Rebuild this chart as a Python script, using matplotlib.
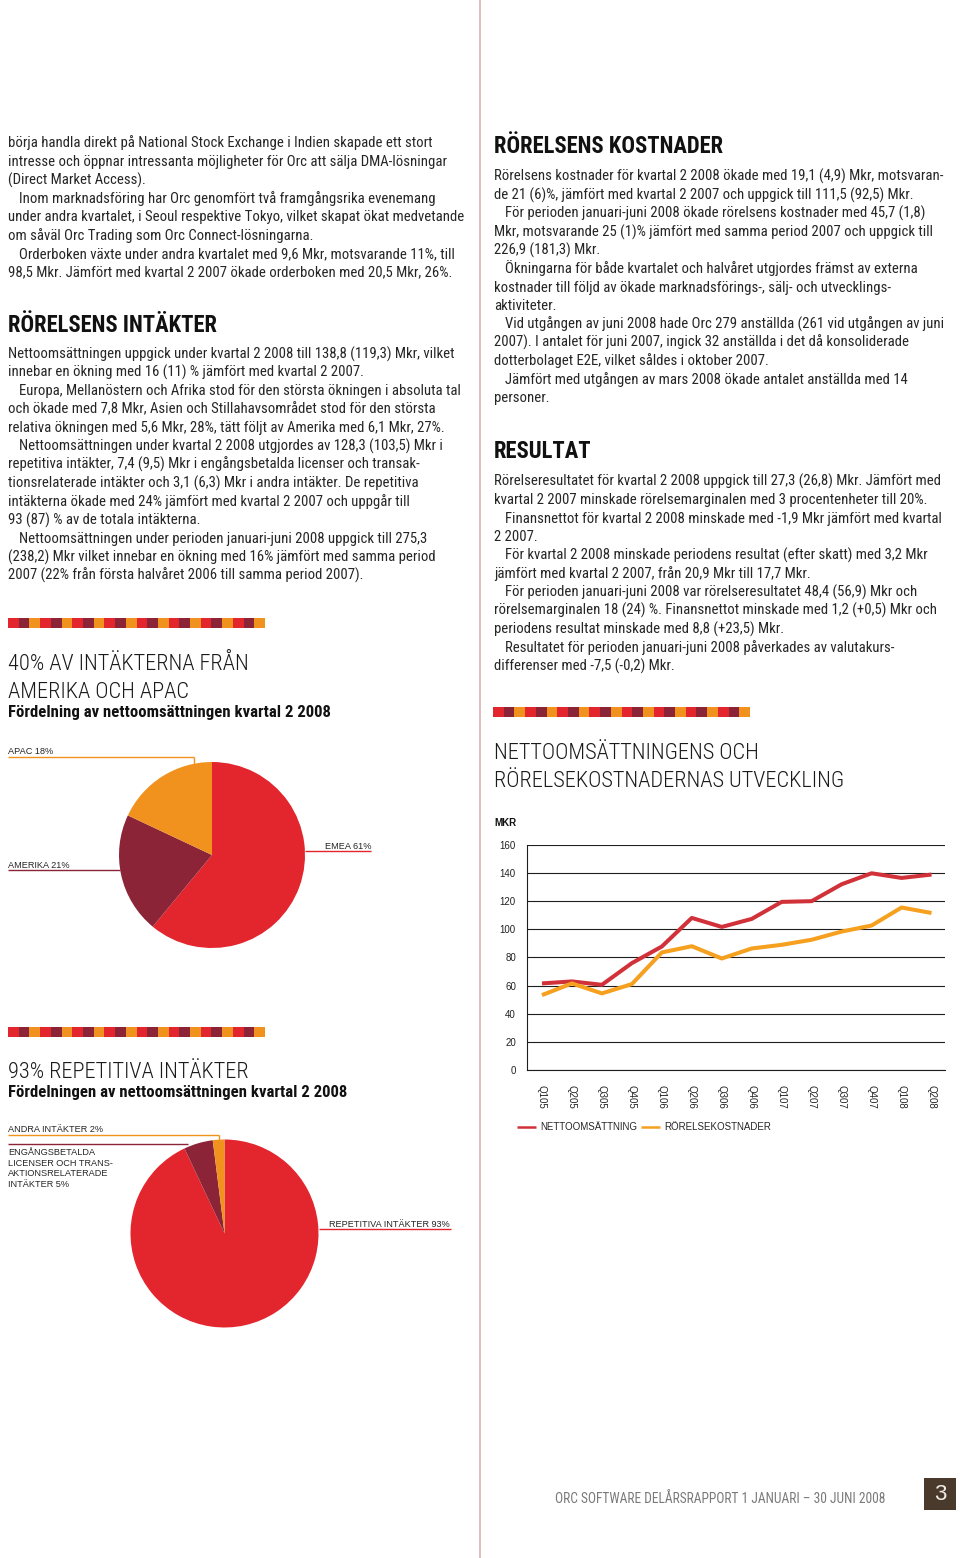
import matplotlib
matplotlib.use('Agg')
import matplotlib.pyplot as plt
from matplotlib.lines import Line2D
from matplotlib.patches import Rectangle
from matplotlib import font_manager as fm

# ---------------- data ----------------
quarters = ['Q105', 'Q205', 'Q305', 'Q405', 'Q106', 'Q206', 'Q306', 'Q406',
            'Q107', 'Q207', 'Q307', 'Q407', 'Q108', 'Q208']
nettoomsattning = [61.5, 62.9, 60.5, 75.9, 87.7, 108.0, 101.6, 107.3,
                   119.4, 119.9, 131.9, 139.7, 136.4, 138.8]
rorelsekostnader = [53.2, 61.5, 54.4, 61.0, 83.5, 87.9, 79.2, 86.3,
                    88.9, 92.5, 98.3, 102.6, 115.4, 111.5]
y_ticks = [0, 20, 40, 60, 80, 100, 120, 140, 160]

region_labels = ['EMEA 61%', 'AMERIKA 21%', 'APAC 18%']
region_values = [61, 21, 18]

revenue_labels = ['REPETITIVA INTÄKTER 93%',
                  'ENGÅNGSBETALDA\nLICENSER OCH TRANS-\nAKTIONSRELATERADE\nINTÄKTER 5%',
                  'ANDRA INTÄKTER 2%']
revenue_values = [93, 5, 2]

left_top = [
    (0, "börja handla direkt på National Stock Exchange i Indien skapade ett stort"),
    (0, "intresse och öppnar intressanta möjligheter för Orc att sälja DMA-lösningar"),
    (0, "(Direct Market Access)."),
    (1, "Inom marknadsföring har Orc genomfört två framgångsrika evenemang"),
    (0, "under andra kvartalet, i Seoul respektive Tokyo, vilket skapat ökat medvetande"),
    (0, "om såväl Orc Trading som Orc Connect-lösningarna."),
    (1, "Orderboken växte under andra kvartalet med 9,6 Mkr, motsvarande 11%, till"),
    (0, "98,5 Mkr. Jämfört med kvartal 2 2007 ökade orderboken med 20,5 Mkr, 26%."),
]
left_intakter = [
    (0, "Nettoomsättningen uppgick under kvartal 2 2008 till 138,8 (119,3) Mkr, vilket"),
    (0, "innebar en ökning med 16 (11) % jämfört med kvartal 2 2007."),
    (1, "Europa, Mellanöstern och Afrika stod för den största ökningen i absoluta tal"),
    (0, "och ökade med 7,8 Mkr, Asien och Stillahavsområdet stod för den största"),
    (0, "relativa ökningen med 5,6 Mkr, 28%, tätt följt av Amerika med 6,1 Mkr, 27%."),
    (1, "Nettoomsättningen under kvartal 2 2008 utgjordes av 128,3 (103,5) Mkr i"),
    (0, "repetitiva intäkter, 7,4 (9,5) Mkr i engångsbetalda licenser och transak-"),
    (0, "tionsrelaterade intäkter och 3,1 (6,3) Mkr i andra intäkter. De repetitiva"),
    (0, "intäkterna ökade med 24% jämfört med kvartal 2 2007 och uppgår till"),
    (0, "93 (87) % av de totala intäkterna."),
    (1, "Nettoomsättningen under perioden januari-juni 2008 uppgick till 275,3"),
    (0, "(238,2) Mkr vilket innebar en ökning med 16% jämfört med samma period"),
    (0, "2007 (22% från första halvåret 2006 till samma period 2007)."),
]
right_kostnader = [
    (0, "Rörelsens kostnader för kvartal 2 2008 ökade med 19,1 (4,9) Mkr, motsvaran-"),
    (0, "de 21 (6)%, jämfört med kvartal 2 2007 och uppgick till 111,5 (92,5) Mkr."),
    (1, "För perioden januari-juni 2008 ökade rörelsens kostnader med 45,7 (1,8)"),
    (0, "Mkr, motsvarande 25 (1)% jämfört med samma period 2007 och uppgick till"),
    (0, "226,9 (181,3) Mkr."),
    (1, "Ökningarna för både kvartalet och halvåret utgjordes främst av externa"),
    (0, "kostnader till följd av ökade marknadsförings-, sälj- och utvecklings-"),
    (0, "aktiviteter."),
    (1, "Vid utgången av juni 2008 hade Orc 279 anställda (261 vid utgången av juni"),
    (0, "2007). I antalet för juni 2007, ingick 32 anställda i det då konsoliderade"),
    (0, "dotterbolaget E2E, vilket såldes i oktober 2007."),
    (1, "Jämfört med utgången av mars 2008 ökade antalet anställda med 14"),
    (0, "personer."),
]
right_resultat = [
    (0, "Rörelseresultatet för kvartal 2 2008 uppgick till 27,3 (26,8) Mkr. Jämfört med"),
    (0, "kvartal 2 2007 minskade rörelsemarginalen med 3 procentenheter till 20%."),
    (1, "Finansnettot för kvartal 2 2008 minskade med -1,9 Mkr jämfört med kvartal"),
    (0, "2 2007."),
    (1, "För kvartal 2 2008 minskade periodens resultat (efter skatt) med 3,2 Mkr"),
    (0, "jämfört med kvartal 2 2007, från 20,9 Mkr till 17,7 Mkr."),
    (1, "För perioden januari-juni 2008 var rörelseresultatet 48,4 (56,9) Mkr och"),
    (0, "rörelsemarginalen 18 (24) %. Finansnettot minskade med 1,2 (+0,5) Mkr och"),
    (0, "periodens resultat minskade med 8,8 (+23,5) Mkr."),
    (1, "Resultatet för perioden januari-juni 2008 påverkades av valutakurs-"),
    (0, "differenser med -7,5 (-0,2) Mkr."),
]

# ---------------- setup ----------------
W, H = 960, 1558
fig = plt.figure(figsize=(W / 100, H / 100), dpi=100)
fig.patch.set_facecolor('white')
renderer = fig.canvas.get_renderer()

names = {f.name for f in fm.fontManager.ttflist}


def pick(cands):
    for c in cands:
        if c in names:
            return c
    return 'DejaVu Sans'


BODY = pick(['Roboto Condensed', 'Liberation Sans Narrow', 'Roboto'])
ARIAL = pick(['Liberation Sans', 'Arimo', 'DejaVu Sans'])

RED = '#e3262d'
MAROON = '#8c2438'
ORANGE = '#f0921d'
TXT = '#262626'


def fx(x):
    return x / W


def fy(y):
    return 1 - y / H


def fit_size(text, family, weight, target_px, base=10.0):
    t = fig.text(0, 0, text, fontsize=base, family=family, fontweight=weight)
    w = t.get_window_extent(renderer).width
    t.remove()
    return base * target_px / w


def put(x, y, s, size, family=BODY, weight='normal', color=TXT, ha='left', va='baseline', **kw):
    return fig.text(fx(x), fy(y), s, fontsize=size, family=[family, 'DejaVu Sans'],
                    fontweight=weight, color=color, ha=ha, va=va, **kw)


def hline(x0, x1, y, color, lw=1.0):
    fig.add_artist(Line2D([fx(x0), fx(x1)], [fy(y), fy(y)], transform=fig.transFigure,
                          color=color, lw=lw, solid_capstyle='butt'))


def vline(x, y0, y1, color, lw=1.0):
    fig.add_artist(Line2D([fx(x), fx(x)], [fy(y0), fy(y1)], transform=fig.transFigure,
                          color=color, lw=lw, solid_capstyle='butt'))


# calibrated sizes
BODY_SIZE = fit_size("under andra kvartalet, i Seoul respektive Tokyo, vilket skapat ökat medvetande",
                     BODY, 'normal', 451)
HEAD_SIZE = fit_size("RÖRELSENS INTÄKTER", BODY, 'bold', 209)
TITLE_SIZE = fit_size("40% AV INTÄKTERNA FRÅN", BODY, 'light', 241)
SUB_SIZE = fit_size("Fördelning av nettoomsättningen kvartal 2 2008", BODY, 'bold', 322)
FOOT_SIZE = fit_size("ORC SOFTWARE DELÅRSRAPPORT 1 JANUARI – 30 JUNI 2008", BODY, 'normal', 331)
LAB_SIZE = fit_size("REPETITIVA INTÄKTER 93%", ARIAL, 'normal', 120)

STEP = 18.45


def block(lines, x0, base0):
    for i, (ind, s) in enumerate(lines):
        put(x0 + 11 * ind, base0 + i * STEP, s, BODY_SIZE)


def stripe(x0, y0, width=257, height=10, n=24):
    cols = [RED, MAROON, ORANGE]
    cw = width / n
    for i in range(n):
        fig.add_artist(Rectangle((fx(x0 + i * cw), fy(y0 + height)), cw / W + 0.0002, height / H,
                                 transform=fig.transFigure, color=cols[i % 3], lw=0))


# divider
vline(480, 0, H, '#d8b2b2', lw=1.2)

# ---------------- left column text ----------------
block(left_top, 8, 147.3)
put(8, 331.7, "RÖRELSENS INTÄKTER", HEAD_SIZE, weight='bold', color='#111111')
block(left_intakter, 8, 358.3)

# ---------------- right column text ----------------
put(494, 153, "RÖRELSENS KOSTNADER", HEAD_SIZE, weight='bold', color='#111111')
block(right_kostnader, 494, 181)
put(494, 457.7, "RESULTAT", HEAD_SIZE, weight='bold', color='#111111')
block(right_resultat, 494, 485.7)

# ---------------- pie 1 ----------------
stripe(8, 618)
put(8, 670, "40% AV INTÄKTERNA FRÅN", TITLE_SIZE, weight='light', color='#1a1a1a')
put(8, 697.5, "AMERIKA OCH APAC", TITLE_SIZE, weight='light', color='#1a1a1a')
put(8, 717.5, "Fördelning av nettoomsättningen kvartal 2 2008", SUB_SIZE, weight='bold', color='#111111')

cx, cy, r = 212, 855, 93
ax1 = fig.add_axes([fx(cx - r), fy(cy + r), 2 * r / W, 2 * r / H])
ax1.pie(region_values, colors=[RED, MAROON, ORANGE], startangle=90, counterclock=False,
        wedgeprops=dict(linewidth=0))
ax1.set_xlim(-1, 1)
ax1.set_ylim(-1, 1)
ax1.set_aspect('equal')
ax1.axis('off')

put(8, 754.5, region_labels[2], LAB_SIZE, family=ARIAL)
hline(8, 194, 757, ORANGE, lw=1.0)
vline(193.5, 757, 764, ORANGE, lw=1.0)
put(8, 867.5, region_labels[1], LAB_SIZE, family=ARIAL)
hline(8, 120, 869.5, MAROON, lw=1.0)
put(325, 849, region_labels[0], LAB_SIZE, family=ARIAL)
hline(305, 371, 851, RED, lw=1.0)

# ---------------- pie 2 ----------------
stripe(8, 1027)
put(8, 1078.3, "93% REPETITIVA INTÄKTER", TITLE_SIZE, weight='light', color='#1a1a1a')
put(8, 1097, "Fördelningen av nettoomsättningen kvartal 2 2008", SUB_SIZE, weight='bold', color='#111111')

cx2, cy2, r2 = 224.5, 1233.5, 94
ax2 = fig.add_axes([fx(cx2 - r2), fy(cy2 + r2), 2 * r2 / W, 2 * r2 / H])
ax2.pie(revenue_values, colors=[RED, MAROON, ORANGE], startangle=90, counterclock=False,
        wedgeprops=dict(linewidth=0))
ax2.set_xlim(-1, 1)
ax2.set_ylim(-1, 1)
ax2.set_aspect('equal')
ax2.axis('off')

put(8, 1132.5, revenue_labels[2], LAB_SIZE, family=ARIAL)
hline(8, 219, 1134.5, ORANGE, lw=1.0)
vline(218.5, 1134.5, 1141, ORANGE, lw=1.0)
hline(8, 188, 1144, MAROON, lw=1.0)
for i, s in enumerate(revenue_labels[1].split('\n')):
    put(8, 1155 + i * 10.55, s, LAB_SIZE, family=ARIAL)
put(329, 1227.3, revenue_labels[0], LAB_SIZE, family=ARIAL)
hline(319, 451, 1229.3, RED, lw=1.0)

# ---------------- line chart ----------------
stripe(493, 707)
put(494, 759, "NETTOOMSÄTTNINGENS OCH", TITLE_SIZE, weight='light', color='#1a1a1a')
put(494, 786.7, "RÖRELSEKOSTNADERNAS UTVECKLING", TITLE_SIZE, weight='light', color='#1a1a1a')
put(494, 826, "MKR", 7, family=ARIAL, weight='bold', color='#111111')

ax = fig.add_axes([fx(527), fy(1070), (945 - 527) / W, (1070 - 844.7) / H])
xs = list(range(len(quarters)))
ax.plot(xs, nettoomsattning, color='#d1323a', lw=2.9, solid_capstyle='butt', zorder=3)
ax.plot(xs, rorelsekostnader, color='#f5a01e', lw=2.9, solid_capstyle='butt', zorder=3)
ax.set_xlim(-0.5, 13.45)
ax.set_ylim(0, 160)
ax.set_yticks(y_ticks)
ax.set_xticks(xs)
ax.set_xticklabels(quarters, rotation=-90, fontsize=7, family=ARIAL, color='#222222')
for lab in ax.get_yticklabels():
    lab.set_family(ARIAL)
ax.tick_params(axis='y', length=0, pad=8, labelsize=7, labelcolor='#222222')
ax.tick_params(axis='x', length=0, pad=11)
ax.grid(axis='y', color='#1e1e1e', lw=0.8)
ax.set_axisbelow(True)
for side in ['top', 'right']:
    ax.spines[side].set_visible(False)
for side in ['left', 'bottom']:
    ax.spines[side].set_color('#1e1e1e')
    ax.spines[side].set_linewidth(0.8)
ax.patch.set_alpha(0)

# legend
hline(517, 536, 1127, '#d1323a', lw=1.8)
put(540, 1130.5, "NETTOOMSÄTTNING", 7, family=ARIAL)
hline(641, 660, 1127, '#f5a01e', lw=1.8)
put(664, 1130.5, "RÖRELSEKOSTNADER", 7, family=ARIAL)

# ---------------- footer ----------------
put(555, 1503, "ORC SOFTWARE DELÅRSRAPPORT 1 JANUARI – 30 JUNI 2008", FOOT_SIZE, color='#7a7a7a')
fig.add_artist(Rectangle((fx(924), fy(1510)), 32 / W, 32 / H, transform=fig.transFigure,
                         color='#4a3a2c', lw=0))
put(940, 1494.5, "3", 16, family=ARIAL, color='#f2ece4', ha='center', va='center')

fig.savefig('out.png', dpi=100, facecolor='white')
